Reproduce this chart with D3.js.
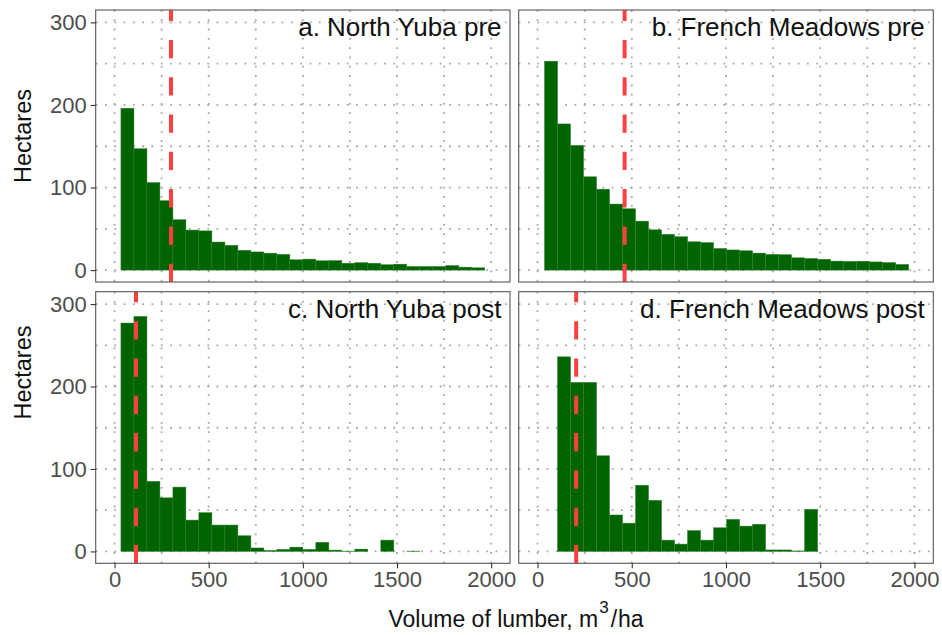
<!DOCTYPE html>
<html>
<head>
<meta charset="utf-8">
<script src="https://cdn.jsdelivr.net/npm/d3@7"></script>
<style>
  body { margin: 0; background: #fff; }
  text { font-family: "Liberation Sans", Arial, "DejaVu Sans", sans-serif; }
</style>
</head>
<body>
<svg id="chart" width="942" height="635"></svg>
<script>
// Histogram of lumber volume per hectare, two forests, before and after treatment
const panelLabels = ["a. North Yuba pre", "b. French Meadows pre", "c. North Yuba post", "d. French Meadows post"];

// bin width (m3/ha) and the lower edge of the first bin in each panel
const binWidth = 69;
const binStarts = [34, 37, 34, 106];

// hectares per bin
const northYubaPre = [196, 147, 106, 84, 61, 48.5, 47.5, 34, 30, 24, 22, 20.5, 19, 12.5, 13.3, 11.3, 11.5, 8.3, 9, 8.3, 6.5, 7.2, 4.4, 4.4, 4.4, 5.5, 3.6, 2.8];
const frenchMeadowsPre = [253, 177, 151, 113, 98, 80, 74.3, 59.3, 48.8, 43.4, 40.4, 34.3, 33.3, 26.2, 24.4, 23.4, 20.6, 19, 18.6, 14.9, 14.1, 13.1, 10.9, 10.5, 10.7, 9.9, 9.1, 6.9];
const northYubaPost = [277, 285, 85, 65, 78, 38, 47, 32, 32, 19, 4.2, 1.2, 2.4, 5.2, 2.4, 11, 1.6, 0.4, 2.8, 0, 13.7, 0, 0.4];
const frenchMeadowsPost = [236, 205, 205, 116, 44.2, 34.3, 80.3, 62, 13.7, 8.9, 25.2, 13.7, 28.7, 38.8, 30.7, 32.9, 1.8, 1.8, 0.6, 51];

// median volume marked by the dashed line
const medianVolume = [300, 462, 114, 205];

const xTicks = [0, 500, 1000, 1500, 2000];
const yTicks = [0, 100, 200, 300];
const xGridValues = [0, 250, 500, 750, 1000, 1250, 1500, 1750, 2000];
const yGridValues = [0, 50, 100, 150, 200, 250, 300];

const series = [northYubaPre, frenchMeadowsPre, northYubaPost, frenchMeadowsPost];

const svg = d3.select("#chart");

const cols = [[95.7, 510], [518.7, 933.3]];
const rows = [[10, 282], [291.7, 563.3]];
const xDomain = [-100, 2100];
const yDomain = [-14.4, 315];

const green = "#006400";
const red = "#FF4040";
const gridColor = "#a8a8a8";
const axisGrey = "#4d4d4d";
const tickFont = 22;

series.forEach((counts, i) => {
  const col = i % 2, row = Math.floor(i / 2);
  const [x0, x1] = cols[col];
  const [y0, y1] = rows[row];
  const x = d3.scaleLinear().domain(xDomain).range([x0, x1]);
  const y = d3.scaleLinear().domain(yDomain).range([y1, y0]);

  const g = svg.append("g");
  const clipId = "clip" + i;
  g.append("clipPath").attr("id", clipId)
    .append("rect").attr("x", x0).attr("y", y0).attr("width", x1 - x0).attr("height", y1 - y0);

  const plot = g.append("g").attr("clip-path", `url(#${clipId})`);

  // dotted grid
  plot.selectAll(".gx").data(xGridValues).join("line")
    .attr("x1", d => x(d)).attr("x2", d => x(d))
    .attr("y1", y0).attr("y2", y1)
    .attr("stroke", gridColor).attr("stroke-width", 1.8)
    .attr("stroke-dasharray", "1.8,7.5");
  plot.selectAll(".gy").data(yGridValues).join("line")
    .attr("x1", x0).attr("x2", x1)
    .attr("y1", d => y(d)).attr("y2", d => y(d))
    .attr("stroke", gridColor).attr("stroke-width", 1.8)
    .attr("stroke-dasharray", "1.8,7.5");

  // histogram bars
  const bins = counts.map((c, k) => ({ lo: binStarts[i] + k * binWidth, hi: binStarts[i] + (k + 1) * binWidth, c }))
    .filter(b => b.c > 0);
  plot.selectAll(".bar").data(bins).join("rect")
    .attr("x", d => x(d.lo))
    .attr("width", d => x(d.hi) - x(d.lo))
    .attr("y", d => y(d.c))
    .attr("height", d => y(0) - y(d.c))
    .attr("fill", green)
    .attr("stroke", "#2f7f2f").attr("stroke-width", 0.5);

  // median line, dashes start at the panel bottom
  plot.append("line")
    .attr("x1", x(medianVolume[i])).attr("x2", x(medianVolume[i]))
    .attr("y1", y1).attr("y2", y0)
    .attr("stroke", red).attr("stroke-width", 4)
    .attr("stroke-dasharray", "18.3,19");

  // panel border
  g.append("rect").attr("x", x0).attr("y", y0).attr("width", x1 - x0).attr("height", y1 - y0)
    .attr("fill", "none").attr("stroke", "#555").attr("stroke-width", 1.1);

  // panel label
  g.append("text")
    .attr("x", x(2055)).attr("y", y0 + 25.8)
    .attr("text-anchor", "end")
    .attr("font-size", 26).attr("fill", "#111")
    .text(panelLabels[i]);

  // y axis on the left column
  if (col === 0) {
    const ay = g.append("g").attr("transform", `translate(${x0},0)`)
      .call(d3.axisLeft(y).tickValues(yTicks).tickFormat(d3.format("d")).tickSize(5).tickPadding(4));
    ay.select(".domain").remove();
    ay.selectAll(".tick line").attr("stroke", "#333").attr("stroke-width", 1.1);
    ay.selectAll(".tick text").attr("font-size", tickFont).attr("fill", axisGrey)
      .attr("font-family", "'Liberation Sans', Arial, sans-serif");
  }
  // x axis on the bottom row
  if (row === 1) {
    const ax = g.append("g").attr("transform", `translate(0,${y1})`)
      .call(d3.axisBottom(x).tickValues(xTicks).tickFormat(d3.format("d")).tickSize(5).tickPadding(3));
    ax.select(".domain").remove();
    ax.selectAll(".tick line").attr("stroke", "#333").attr("stroke-width", 1.1);
    ax.selectAll(".tick text").attr("font-size", tickFont).attr("fill", axisGrey)
      .attr("font-family", "'Liberation Sans', Arial, sans-serif");
  }
});

// y titles
[136, 372.5].forEach(cy => {
  svg.append("text")
    .attr("transform", `translate(30.5,${cy}) rotate(-90)`)
    .attr("text-anchor", "middle")
    .attr("font-size", 23.5).attr("fill", "#111")
    .text("Hectares");
});

// x title with superscript unit
const xt = svg.append("text")
  .attr("x", 388.5).attr("y", 626.5)
  .attr("font-size", 23).attr("fill", "#111");
xt.append("tspan").text("Volume of lumber, m");
xt.append("tspan").attr("font-size", 17).attr("dx", 1).attr("dy", -14).text("3");
xt.append("tspan").attr("dx", 2).attr("dy", 14).text("/");
xt.append("tspan").attr("dx", 1).text("ha");
</script>
</body>
</html>
